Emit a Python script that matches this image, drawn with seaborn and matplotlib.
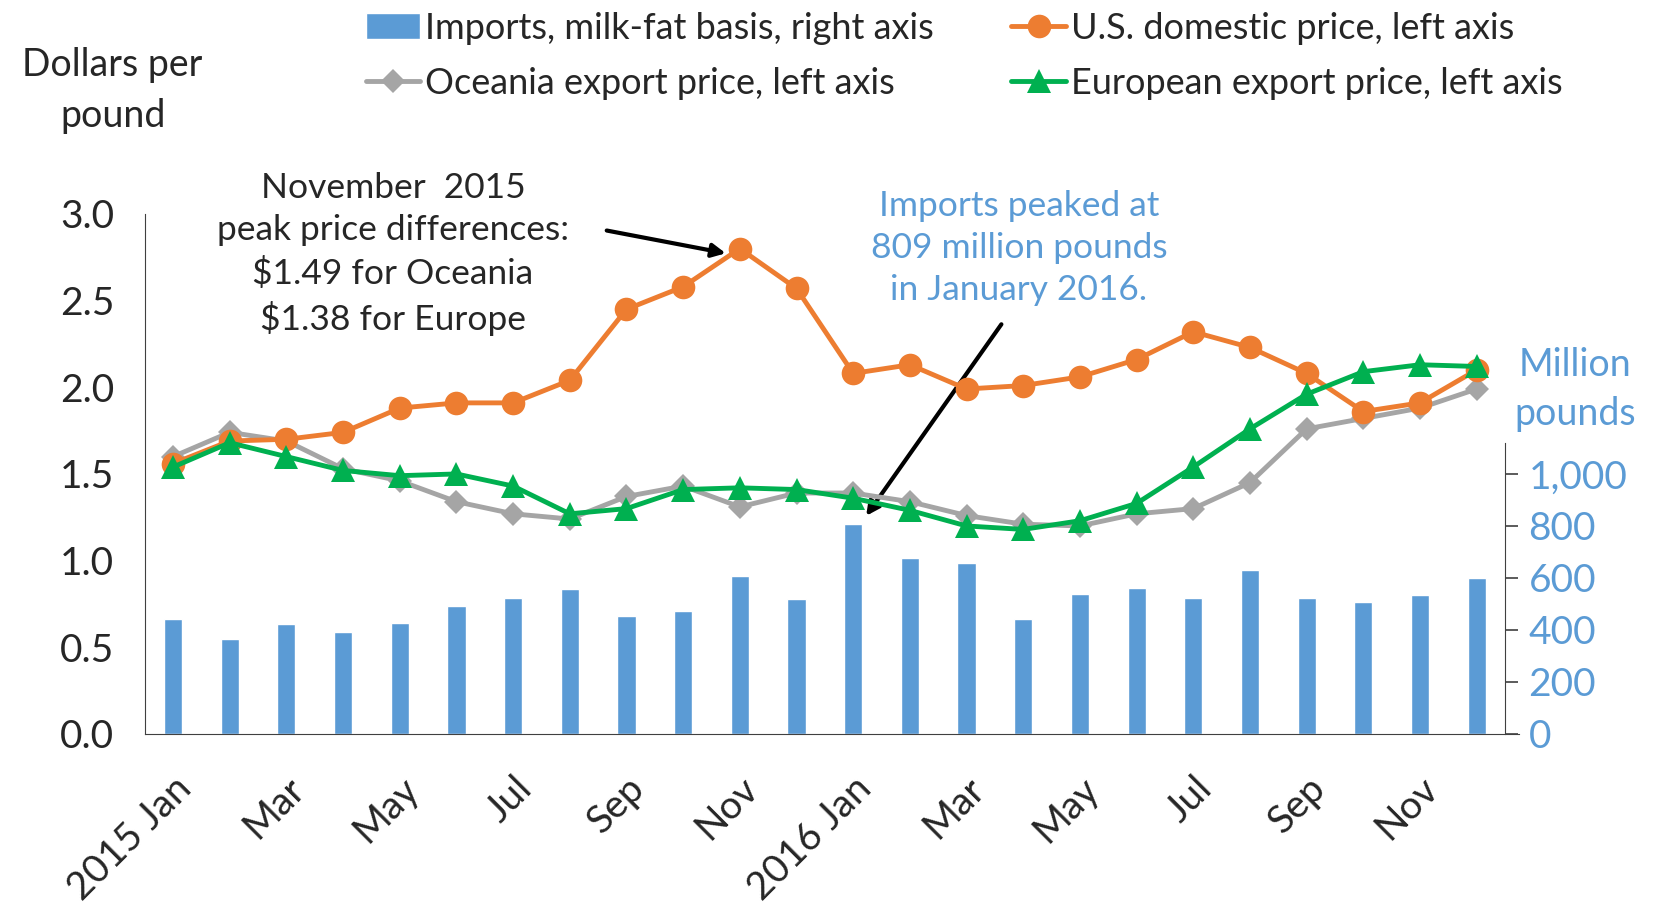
import pandas as pd
import matplotlib.pyplot as plt
import seaborn as sns

# Monthly data, Jan 2015 - Dec 2016
months = ["2015 Jan", "Feb", "Mar", "Apr", "May", "Jun", "Jul", "Aug", "Sep", "Oct", "Nov", "Dec",
          "2016 Jan", "Feb", "Mar", "Apr", "May", "Jun", "Jul", "Aug", "Sep", "Oct", "Nov", "Dec"]
imports = [443, 366, 423, 394, 427, 492, 524, 557, 455, 472, 606, 520,
           809, 675, 659, 443, 537, 561, 524, 630, 524, 508, 533, 598]
us_price = [1.56, 1.69, 1.70, 1.74, 1.88, 1.91, 1.91, 2.04, 2.45, 2.58, 2.80, 2.57,
            2.08, 2.13, 1.99, 2.01, 2.06, 2.16, 2.32, 2.23, 2.08, 1.86, 1.91, 2.10]
oceania_price = [1.60, 1.74, 1.69, 1.53, 1.46, 1.34, 1.27, 1.24, 1.37, 1.43, 1.31, 1.39,
                 1.39, 1.34, 1.26, 1.21, 1.20, 1.27, 1.30, 1.45, 1.76, 1.82, 1.88, 1.99]
europe_price = [1.54, 1.68, 1.60, 1.52, 1.49, 1.50, 1.43, 1.27, 1.30, 1.41, 1.42, 1.41,
                1.36, 1.29, 1.20, 1.18, 1.23, 1.33, 1.54, 1.76, 1.96, 2.09, 2.13, 2.12]

df = pd.DataFrame({"pos": range(len(months)), "month": months, "imports": imports,
                   "us": us_price, "oceania": oceania_price, "europe": europe_price})

BLUE = "#5B9BD5"
ORANGE = "#ED7D31"
GREY = "#A5A5A5"
GREEN = "#00B050"
AXIS = "#404040"

sns.set_style("white")
plt.rcParams["font.family"] = ["Lato", "DejaVu Sans"]

fig = plt.figure(figsize=(16.56, 9.05), dpi=100)
ax = fig.add_axes([0.0874, 0.189, 0.8214, 0.5746])
ax2 = ax.twinx()

# bars on the right axis, drawn beneath the price lines
sns.barplot(data=df, x="pos", y="imports", color=BLUE, width=0.32, saturation=1,
            ax=ax2, label="Imports, milk-fat basis, right axis")
ax.set_zorder(ax2.get_zorder() + 1)
ax.patch.set_visible(False)

sns.lineplot(data=df, x="pos", y="oceania", color=GREY, marker="D", markersize=12,
             markeredgewidth=0, linewidth=3.5, ax=ax, label="Oceania export price, left axis")
sns.lineplot(data=df, x="pos", y="us", color=ORANGE, marker="o", markersize=17,
             markeredgewidth=0, linewidth=3.5, ax=ax, label="U.S. domestic price, left axis")
sns.lineplot(data=df, x="pos", y="europe", color=GREEN, marker="^", markersize=17,
             markeredgewidth=0, linewidth=3.5, ax=ax, label="European export price, left axis")

ax.set_xlim(-0.5, len(months) - 0.5)
ax.set_ylim(0, 3.0)
ax2.set_ylim(0, 2000)
ax.set_yticks([0, 0.5, 1.0, 1.5, 2.0, 2.5, 3.0])
ax.set_yticklabels([f"{v:.1f}" for v in [0, 0.5, 1.0, 1.5, 2.0, 2.5, 3.0]], fontsize=28)
ax2.set_yticks(range(0, 1001, 200))
ax2.set_yticklabels([f"{v:,}" for v in range(0, 1001, 200)], fontsize=28, color=BLUE)
ax.set_xticks(range(0, len(months), 2))
ax.set_xticklabels(months[::2], rotation=45, ha="right", rotation_mode="anchor", fontsize=28)
ax.set_xlabel("")
ax.set_ylabel("")
ax2.set_ylabel("")
ax2.set_xlabel("")

ax.spines["top"].set_visible(False)
ax2.spines["top"].set_visible(False)
ax2.spines["bottom"].set_visible(False)
ax.spines["right"].set_visible(False)
ax2.spines["left"].set_visible(False)
ax.spines["left"].set_color(AXIS)
ax.spines["bottom"].set_color(AXIS)
ax.spines["bottom"].set_bounds(-0.5, 23.75)
ax2.spines["right"].set_color(AXIS)
ax2.spines["right"].set_bounds(0, 1120)
ax.tick_params(axis="y", length=0, pad=22)
ax.tick_params(axis="x", length=0, pad=26)
ax2.tick_params(axis="y", direction="out", length=9, width=1.2, color=AXIS, pad=8)

ax.get_legend().remove()
h1, l1 = ax.get_legend_handles_labels()
h2, l2 = ax2.get_legend_handles_labels()
if ax2.get_legend():
    ax2.get_legend().remove()
handles = [h2[0], h1[0], h1[1], h1[2]]
labels = [l2[0], l1[0], l1[1], l1[2]]
fig.legend(handles, labels, ncol=2, loc="upper left", bbox_to_anchor=(0.212, 1.003),
           frameon=False, fontsize=26, handlelength=1.5, handletextpad=0.15,
           columnspacing=2.15, labelspacing=0.62, borderaxespad=0)

fig.text(0.068, 0.9, "Dollars per\npound", ha="center", va="center", fontsize=27,
         linespacing=1.55)
fig.text(0.951, 0.570, "Million\npounds", ha="center", va="center", fontsize=27,
         color=BLUE, linespacing=1.45)

ax.annotate("November  2015\npeak price differences:\n$1.49 for Oceania\n$1.38 for Europe",
            xy=(10, 2.80), xytext=(393 / 1656, 1 - 254 / 905), textcoords="figure fraction",
            ha="center", va="center", fontsize=25.5, linespacing=1.38)
ax.annotate("", xy=(9.8, 2.77), xytext=(604 / 1656, 1 - 230 / 905),
            textcoords="figure fraction",
            arrowprops=dict(arrowstyle="-|>", color="black", lw=3, mutation_scale=20))
ax.text(1019 / 1656, 1 - 248 / 905, "Imports peaked at\n809 million pounds\nin January 2016.",
        transform=fig.transFigure, ha="center", va="center", fontsize=25.5, color=BLUE,
        linespacing=1.38)
ax2.annotate("", xy=(12.2, 830), xytext=(1003 / 1656, 1 - 322 / 905),
             textcoords="figure fraction",
             arrowprops=dict(arrowstyle="-|>", color="black", lw=3, mutation_scale=20))

fig.savefig("out.png", dpi=100)
